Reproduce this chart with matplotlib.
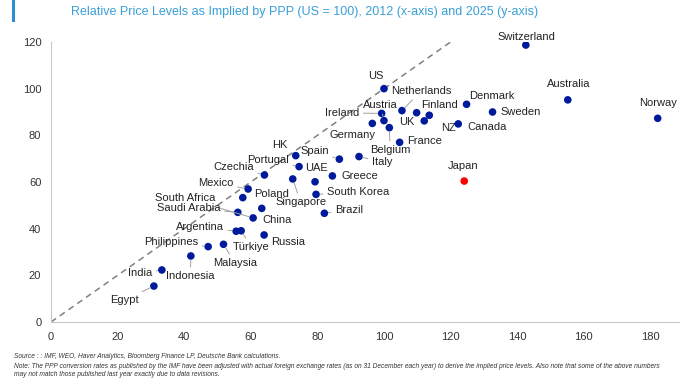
import matplotlib
matplotlib.use("Agg")
import matplotlib.pyplot as plt
from matplotlib.lines import Line2D

plt.rcParams['font.family'] = ['Liberation Sans', 'DejaVu Sans']

countries = ["Egypt", "India", "Indonesia", "Philippines", "Malaysia", "Argentina",
             "Türkiye", "Russia", "South Africa", "Saudi Arabia", "China", "Poland",
             "Mexico", "Czechia", "HK", "Portugal", "Singapore", "UAE", "South Korea",
             "Brazil", "Greece", "Spain", "Italy", "Germany", "Ireland", "Austria",
             "Belgium", "US", "Netherlands", "France", "Finland", "NZ", "UK", "Canada",
             "Denmark", "Sweden", "Japan", "Switzerland", "Australia", "Norway"]
price_2012 = [30.9, 33.3, 42.0, 47.2, 51.8, 55.6, 57.1, 64.0, 60.7, 56.1, 63.3, 57.6,
              59.2, 64.1, 73.5, 74.5, 72.6, 79.3, 79.6, 82.1, 84.5, 86.6, 92.5, 96.5,
              99.3, 100.0, 101.6, 100.0, 105.4, 104.7, 109.8, 113.6, 112.1, 122.3,
              124.8, 132.6, 124.1, 142.6, 155.2, 182.2]
price_2025 = [15.4, 22.3, 28.3, 32.3, 33.3, 38.9, 39.1, 37.3, 44.6, 47.0, 48.7, 53.3,
              57.0, 63.0, 71.3, 66.6, 61.3, 60.1, 54.7, 46.6, 62.6, 69.8, 70.9, 85.1,
              89.4, 86.3, 83.3, 100.0, 90.6, 77.0, 89.7, 88.6, 86.2, 84.9, 93.3, 90.0,
              60.4, 118.7, 95.2, 87.3]
highlight = "Japan"
x_ticks = [0, 20, 40, 60, 80, 100, 120, 140, 160, 180]
y_ticks = [0, 20, 40, 60, 80, 100, 120]

# label layout: figure-pixel position from top-left (x, y), horizontal alignment, leader line
label_layout = {
    "Egypt": (110, 300, 'left', True), "India": (128, 273, 'left', True),
    "Indonesia": (166, 276, 'left', True), "Philippines": (144, 242, 'left', True),
    "Malaysia": (213, 263, 'left', True), "Argentina": (176, 227, 'left', True),
    "Türkiye": (233, 247, 'left', True), "Russia": (271, 242, 'left', False),
    "South Africa": (155, 198, 'left', True), "Saudi Arabia": (157, 208, 'left', True),
    "China": (262, 220, 'left', False), "Poland": (254, 194, 'left', False),
    "Mexico": (198, 183, 'left', True), "Czechia": (213, 167, 'left', True),
    "HK": (280, 145, 'center', False), "Portugal": (247, 160, 'left', True),
    "Singapore": (275, 202, 'left', True), "UAE": (305, 168, 'left', False),
    "South Korea": (327, 192, 'left', True), "Brazil": (335, 210, 'left', True),
    "Greece": (341, 176, 'left', False), "Spain": (300, 151, 'left', True),
    "Italy": (372, 162, 'left', True), "Germany": (330, 135, 'left', False),
    "Ireland": (325, 113, 'left', True), "Austria": (363, 105, 'left', True),
    "Belgium": (370, 150, 'left', True), "US": (376, 76, 'center', False),
    "Netherlands": (391, 91, 'left', True), "France": (407, 141, 'left', False),
    "Finland": (421, 105, 'left', False), "NZ": (448, 128, 'center', False),
    "UK": (399, 122, 'left', False), "Canada": (467, 127, 'left', False),
    "Denmark": (469, 96, 'left', False), "Sweden": (500, 112, 'left', False),
    "Japan": (463, 166, 'center', False), "Switzerland": (526, 37, 'center', False),
    "Australia": (569, 84, 'center', False), "Norway": (658, 103, 'center', False),
}

W, H = 700, 384
fig = plt.figure(figsize=(W / 100, H / 100), dpi=100)
ax = fig.add_axes([51 / W, 1 - 322 / H, 628 / W, 280 / H])

ax.plot([0, 122], [0, 122], ls=(0, (4, 3)), color='#808080', lw=1.1, zorder=1)

colors = ['#ff0000' if c == highlight else '#001a9c' for c in countries]
ax.scatter(price_2012, price_2025, s=30, c=colors, zorder=3, linewidths=0)

for c, x, y in zip(countries, price_2012, price_2025):
    px, py, ha, leader = label_layout[c]
    kw = {}
    if leader:
        kw['arrowprops'] = dict(arrowstyle='-', color='#a0a0a0', lw=0.7,
                                shrinkA=1, shrinkB=3)
    ax.annotate(c, xy=(x, y), xytext=(px, H - py), textcoords='figure pixels',
                ha=ha, va='center', fontsize=8, color='#222222', zorder=4, **kw)

ax.set_xlim(0, 188.6)
ax.set_ylim(0, 120)
ax.set_xticks(x_ticks)
ax.set_yticks(y_ticks)
ax.tick_params(length=0, labelsize=8, colors='#333333', pad=7)
for s in ['top', 'right']:
    ax.spines[s].set_visible(False)
for s in ['left', 'bottom']:
    ax.spines[s].set_color('#c8c8c8')
    ax.spines[s].set_linewidth(0.8)

fig.text(71 / W, 1 - 12 / H,
         "Relative Price Levels as Implied by PPP (US = 100), 2012 (x-axis) and 2025 (y-axis)",
         fontsize=9.0, color='#3a9fd6', va='center', ha='left')
fig.add_artist(Line2D([13 / W, 13 / W], [1, 1 - 20 / H], color='#2a8fcc', lw=2.2))

notes = ["Source : : IMF, WEO, Haver Analytics, Bloomberg Finance LP, Deutsche Bank calculations.",
         "Note: The PPP conversion rates as published by the IMF have been adjusted with actual foreign exchange rates (as on 31 December each year) to derive the implied price levels. Also note that some of the above numbers",
         "may not match those published last year exactly due to data revisions."]
for t, py in zip(notes, [357, 366, 374]):
    fig.text(14 / W, 1 - py / H, t, fontsize=4.75, style='italic', color='#333333',
             va='center', ha='left')

fig.savefig("out.png", dpi=100)
